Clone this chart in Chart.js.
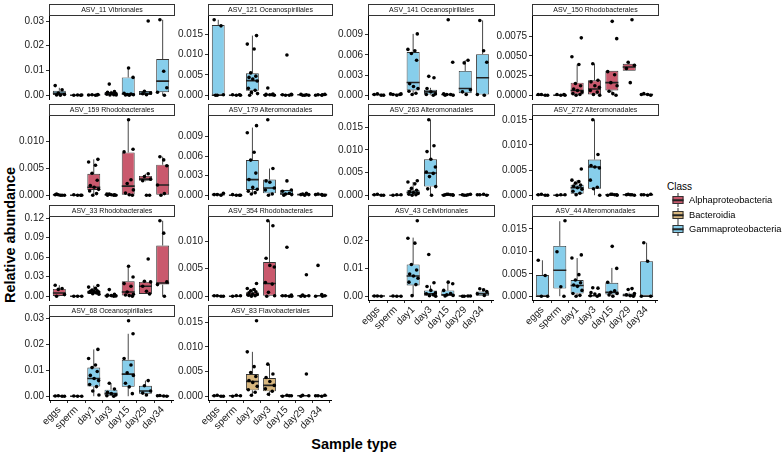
<!DOCTYPE html>
<html>
<head>
<meta charset="utf-8">
<script src="https://cdn.jsdelivr.net/npm/chart.js@4.4.0/dist/chart.umd.min.js"></script>
<style>
  body { margin: 0; background: #fff; font-family: "Liberation Sans", Arial, sans-serif; -webkit-font-smoothing: antialiased; }
  #wrap { position: relative; width: 784px; height: 453px; overflow: hidden; }
  #wrap canvas { position: absolute; }
  .strip { position: absolute; box-sizing: border-box; height: 12px; border: 1px solid #333; background: #fff;
           font-size: 7px; line-height: 10px; text-align: center; color: #111; z-index: 2; white-space: nowrap;
           will-change: transform; }
  .ytitle { position: absolute; left: 10px; top: 235px; transform: translate(-50%, -50%) rotate(-90deg);
            font-weight: bold; font-size: 14.5px; white-space: nowrap; color: #000; }
  .xtitle { position: absolute; left: 354px; top: 444px; transform: translate(-50%, -50%);
            font-weight: bold; font-size: 14.5px; white-space: nowrap; color: #000; }
  .legtitle { position: absolute; left: 667px; top: 181px; font-size: 10px; color: #000; }
  .legitem { position: absolute; left: 689px; font-size: 9.3px; color: #000; transform: translateY(-50%); white-space: nowrap; }
  .keyline { position: absolute; width: 1px; height: 14px; background: #333; transform: translate(-50%, -50%); }
  .keybox { position: absolute; width: 11px; height: 8px; box-sizing: border-box; border: 1px solid #333; transform: translate(-50%, -50%); }
  .keymed { position: absolute; width: 11px; height: 1.5px; background: #222; transform: translate(-50%, -50%); }
</style>
</head>
<body>
<div id="wrap">
  <div class="ytitle">Relative abundance</div>
  <div class="xtitle">Sample type</div>
  <div class="legtitle">Class</div>
</div>
<script>
const CATEGORIES = ["eggs", "sperm", "day1", "day3", "day15", "day29", "day34"];
const CLASSES = ["Alphaproteobacteria", "Bacteroidia", "Gammaproteobacteria"];

const PANEL_TITLES = [
    "ASV_11 Vibrionales", "ASV_121 Oceanospirillales", "ASV_141 Oceanospirillales", "ASV_150 Rhodobacterales",
    "ASV_159 Rhodobacterales", "ASV_179 Alteromonadales", "ASV_263 Alteromonadales", "ASV_272 Alteromonadales",
    "ASV_33 Rhodobacterales", "ASV_354 Rhodobacterales", "ASV_43 Cellvibrionales", "ASV_44 Alteromonadales",
    "ASV_68 Oceanospirillales", "ASV_83 Flavobacteriales"
];
// index into CLASSES
const PANEL_CLASS = [2, 2, 2, 0, 0, 2, 2, 2, 0, 0, 2, 2, 2, 1];

const Y_TICKS = [
    [0, 0.01, 0.02, 0.03], [0, 0.005, 0.01, 0.015], [0, 0.003, 0.006, 0.009], [0, 0.0025, 0.005, 0.0075],
    [0, 0.005, 0.01], [0, 0.003, 0.006, 0.009], [0, 0.005, 0.01, 0.015], [0, 0.005, 0.01, 0.015],
    [0, 0.03, 0.06, 0.09, 0.12], [0, 0.005, 0.01], [0, 0.01, 0.02], [0, 0.005, 0.01, 0.015],
    [0, 0.01, 0.02, 0.03], [0, 0.005, 0.01, 0.015]
];

// box statistics, one row per panel, one value per sample type
const WHISKER_LOW = [
    [0, 0, 0, 0, 0, 0, 0], [0, 0, 0.0001, 0, 0, 0, 0], [0, 0, 0, 0, 0, 0, 0], [0, 0, 0, 0, 0.0002, 0.0031, 0],
    [0, 0, 0, 0, 0, 0.0026, 0], [0, 0, 0.0002, 0, 0, 0, 0], [0, 0, 0, 0, 0, 0, 0], [0, 0, 0, 0, 0, 0, 0],
    [0, 0, 0.0026, 0, 0, 0.0036, 0], [0, 0, 0, 0, 0, 0, 0], [0, 0, 0.0002, 0, 0, 0, 0.0002], [0, 0, 0, 0, 0, 0, 0],
    [0, 0, 0, 0, 0, 0, 0], [0, 0, 0, 0, 0, 0, 0]
];
const BOX_Q1 = [
    [0.0001, 0, 0, 0.0001, 0.0003, 0.0001, 0.0012], [0, 0, 0.0011, 0, 0, 0, 0], [0, 0, 0.0007, 0.0001, 0, 0.0003, 0.0001], [0, 0, 0.0001, 0.0001, 0.0006, 0.0031, 0],
    [0, 0, 0.001, 0, 0.0001, 0.0027, 0], [0, 0, 0.0008, 0.0003, 0.0001, 0, 0], [0, 0, 0.0001, 0.0019, 0, 0, 0], [0, 0, 0.0003, 0.0013, 0, 0, 0],
    [0.0005, 0, 0.0035, 0, 0.001, 0.0036, 0.0179], [0, 0, 0, 0.0001, 0, 0, 0], [0, 0, 0.0039, 0.0002, 0.0002, 0, 0.0002], [0, 0.0017, 0.0006, 0, 0.0004, 0, 0],
    [0, 0, 0.0037, 0, 0.0036, 0.001, 0], [0, 0, 0.0012, 0.001, 0, 0, 0]
];
const BOX_MEDIAN = [
    [0.0008, 0, 0.0001, 0.0005, 0.0005, 0.0008, 0.0057], [0, 0, 0.0036, 0.0001, 0.0001, 0.0001, 0.0001], [0.0001, 0.0001, 0.0019, 0.0005, 0.0001, 0.001, 0.0026], [0, 0, 0.0006, 0.0008, 0.0016, 0.0036, 0.0001],
    [0.0001, 0, 0.0015, 0.0001, 0.0017, 0.003, 0.0019], [0.0001, 0, 0.0024, 0.0011, 0.0002, 0.0001, 0.0001], [0.0001, 0, 0.0006, 0.0049, 0.0001, 0.0001, 0.0001], [0.0001, 0, 0.0015, 0.0056, 0.0001, 0.0001, 0.0001],
    [0.005, 0, 0.0066, 0.0008, 0.0066, 0.0153, 0.0204], [0.0001, 0, 0.0003, 0.0023, 0.0001, 0.0001, 0.0001], [0.0001, 0, 0.0073, 0.0009, 0.0005, 0.0001, 0.0009], [0, 0.0058, 0.0024, 0.0001, 0.0009, 0.0002, 0],
    [0.0001, 0, 0.0068, 0.001, 0.0085, 0.002, 0.0001], [0.0001, 0.0001, 0.003, 0.0022, 0.0001, 0.0001, 0.0001]
];
const BOX_Q3 = [
    [0.0018, 0.0001, 0.0002, 0.0013, 0.0072, 0.0017, 0.0146], [0.0173, 0.0001, 0.0054, 0.0002, 0.0002, 0.0001, 0.0002], [0.0001, 0.0002, 0.0064, 0.0008, 0.0002, 0.0036, 0.0061], [0.0001, 0.0001, 0.0016, 0.0019, 0.0031, 0.004, 0.0001],
    [0.0001, 0.0001, 0.004, 0.0001, 0.008, 0.0036, 0.0057], [0.0001, 0.0001, 0.0054, 0.0024, 0.0008, 0.0002, 0.0001], [0.0001, 0.0001, 0.0011, 0.0079, 0.0001, 0.0001, 0.0001], [0.0001, 0.0001, 0.0021, 0.0071, 0.0001, 0.0001, 0.0001],
    [0.0112, 0, 0.0087, 0.0026, 0.023, 0.022, 0.078], [0.0001, 0.0001, 0.0007, 0.0062, 0.0001, 0.0001, 0.0002], [0.0001, 0.0001, 0.0115, 0.0021, 0.0021, 0.0001, 0.0017], [0.0047, 0.0112, 0.0036, 0.0003, 0.003, 0.0006, 0.0078],
    [0.0001, 0.0001, 0.011, 0.0025, 0.014, 0.004, 0.0002], [0.0001, 0.0001, 0.0045, 0.0037, 0.0001, 0.0002, 0.0001]
];
const WHISKER_HIGH = [
    [0.003, 0.0001, 0.0003, 0.0018, 0.011, 0.0017, 0.0305], [0.0186, 0.0001, 0.0147, 0.0003, 0.0002, 0.0002, 0.0002], [0.0002, 0.0002, 0.0091, 0.0011, 0.0002, 0.0052, 0.0111], [0.0001, 0.0001, 0.0039, 0.004, 0.0031, 0.0042, 0.0002],
    [0.0002, 0.0001, 0.0067, 0.0002, 0.0141, 0.004, 0.0072], [0.0003, 0.0001, 0.0104, 0.0041, 0.0008, 0.0003, 0.0002], [0.0002, 0.0001, 0.0029, 0.0166, 0.0002, 0.0002, 0.0002], [0.0002, 0.0001, 0.003, 0.015, 0.0002, 0.0002, 0.0002],
    [0.0169, 0, 0.0164, 0.0035, 0.046, 0.023, 0.116], [0.0001, 0.0001, 0.0014, 0.0137, 0.0002, 0.0002, 0.0003], [0.0001, 0.0001, 0.0212, 0.0039, 0.0051, 0.0002, 0.0027], [0.008, 0.0167, 0.0085, 0.0005, 0.0063, 0.0008, 0.0119],
    [0.0002, 0.0001, 0.018, 0.005, 0.024, 0.006, 0.0003], [0.0002, 0.0002, 0.009, 0.0065, 0.0002, 0.0003, 0.0002]
];

// individual samples per panel and sample type
const POINTS = [
    [[0.0039, 0.0022, 0.0009, 0.0003, 0.0001, 0], [0.0001, 0, 0.0001, 0], [0.0003, 0.0001, 0, 0.0002, 0.0001],
     [0.0045, 0.0015, 0.0012, 0.0009, 0.0006, 0.0004, 0.0002, 0.0001, 0.0001], [0.011, 0.0072, 0.0008, 0.0005, 0.0003, 0.0002, 0.0001, 0],
     [0.03, 0.0016, 0.0009, 0.0006, 0.0002], [0.0305, 0.0097, 0.003, 0.0012, 0]],
    [[0.0186, 0.0171, 0, 0.0001, 0], [0, 0.0001, 0, 0.0001],
     [0.0147, 0.0126, 0.0114, 0.0055, 0.0047, 0.0044, 0.004, 0.0035, 0.0017, 0.0012, 0.0007, 0.0004, 0],
     [0.0018, 0.0003, 0.0002, 0.0001, 0, 0, 0.0001], [0.0099, 0.0002, 0.0001, 0, 0, 0.0001], [0.0001, 0, 0, 0.0002, 0], [0.0001, 0, 0.0002, 0, 0.0001]],
    [[0.0001, 0, 0.0002, 0], [0.0002, 0.0001, 0, 0.0001, 0.0002],
     [0.0091, 0.0068, 0.0066, 0.0062, 0.0052, 0.0017, 0.0013, 0.001, 0.0006, 0.0003, 0.0001],
     [0.0028, 0.0026, 0.001, 0.0005, 0.0002, 0.0001, 0], [0.0112, 0.0049, 0.0002, 0.0001, 0.0001, 0, 0],
     [0.0052, 0.0048, 0.0008, 0.0005, 0.0001], [0.0111, 0.0066, 0.0049, 0.0001, 0]],
    [[0.0001, 0, 0.0001, 0], [0, 0.0001, 0, 0.0001],
     [0.0073, 0.0049, 0.0039, 0.0015, 0.0012, 0.0008, 0.0006, 0.0004, 0.0002, 0.0001, 0],
     [0.004, 0.0019, 0.0017, 0.0012, 0.001, 0.0006, 0.0004, 0.0001, 0], [0.0094, 0.0072, 0.003, 0.0026, 0.0016, 0.0012, 0.0005, 0.0002, 0],
     [0.0096, 0.0042, 0.0038, 0.0034, 0.0016], [0.0002, 0.0001, 0, 0.0001]],
    [[0.0001, 0, 0.0001, 0, 0.0002, 0], [0, 0.0001, 0, 0],
     [0.0067, 0.0062, 0.0056, 0.0041, 0.0028, 0.0018, 0.0015, 0.0011, 0.0008, 0.0003, 0],
     [0.0002, 0.0001, 0, 0.0001, 0, 0.0002, 0], [0.0141, 0.0086, 0.0081, 0.0029, 0.0022, 0.001, 0.0004, 0.0001, 0],
     [0.004, 0.0035, 0.003, 0.0027, 0, 0], [0.0072, 0.0066, 0.0055, 0.0019, 0.0003, 0]],
    [[0.0001, 0, 0.0001, 0.0003], [0, 0.0001, 0, 0],
     [0.0107, 0.0096, 0.0066, 0.0054, 0.0034, 0.0024, 0.0012, 0.0009, 0.0006, 0.0004, 0.0002],
     [0.0116, 0.0041, 0.0022, 0.002, 0.0011, 0.0008, 0.0002, 0], [0.0022, 0.0008, 0.0006, 0.0003, 0.0002, 0.0001, 0],
     [0.0003, 0.0002, 0.0001, 0.0001, 0], [0.0002, 0.0001, 0, 0.0001, 0]],
    [[0.0001, 0, 0.0002, 0], [0.0001, 0, 0.0001],
     [0.0032, 0.0029, 0.0025, 0.0015, 0.0011, 0.0008, 0.0006, 0.0004, 0.0002, 0.0001, 0],
     [0.0166, 0.0109, 0.0096, 0.0079, 0.0062, 0.0051, 0.0048, 0.0041, 0.0019, 0.0014, 0],
     [0.0002, 0.0001, 0, 0.0001, 0.0002, 0, 0.0001], [0.0001, 0, 0.0002, 0.0001, 0], [0.0001, 0.0002, 0, 0.0001]],
    [[0.0001, 0, 0.0002, 0], [0.0001, 0, 0.0001],
     [0.0052, 0.003, 0.0027, 0.0024, 0.002, 0.0018, 0.0015, 0.0012, 0.0008, 0.0004, 0.0001],
     [0.015, 0.0081, 0.0059, 0.0056, 0.0054, 0.003, 0.0016, 0.0013, 0],
     [0.0002, 0.0001, 0, 0.0001, 0.0002, 0], [0.0001, 0.0002, 0, 0.0001, 0.0001], [0.0001, 0, 0.0002, 0.0001]],
    [[0.0169, 0.0118, 0.0105, 0.0025, 0], [0, 0, 0],
     [0.0164, 0.014, 0.012, 0.0095, 0.0085, 0.0075, 0.007, 0.0066, 0.006, 0.005, 0.004, 0.003],
     [0.0102, 0.003, 0.002, 0.001, 0.0005, 0.0002, 0], [0.046, 0.0296, 0.0194, 0.0153, 0.0066, 0.003, 0.002, 0.001, 0],
     [0.0572, 0.023, 0.022, 0.0153, 0.0077, 0.0036], [0.116, 0.097, 0.022, 0.0179, 0]],
    [[0.0001, 0, 0.0001, 0], [0.0001, 0, 0.0001],
     [0.0023, 0.0014, 0.0012, 0.001, 0.0008, 0.0006, 0.0004, 0.0003, 0.0002, 0.0001, 0],
     [0.0137, 0.0128, 0.0069, 0.0056, 0.0053, 0.0025, 0.0022, 0.0007, 0.0001, 0],
     [0.0089, 0.0002, 0.0001, 0, 0.0001, 0], [0.0039, 0.0002, 0.0001, 0, 0], [0.0056, 0.0003, 0.0001, 0, 0]],
    [[0.0001, 0, 0.0001], [0, 0.0001, 0],
     [0.0273, 0.021, 0.0192, 0.0115, 0.0095, 0.008, 0.0073, 0.0065, 0.0051, 0.0042, 0.0002],
     [0.0151, 0.0049, 0.0035, 0.0021, 0.0012, 0.0009, 0.0005, 0.0002, 0],
     [0.0051, 0.0045, 0.0021, 0.001, 0.0005, 0.0003, 0.0001], [0.0001, 0, 0.0001, 0], [0.0027, 0.0023, 0.0017, 0.0009, 0.0003]],
    [[0.008, 0.0046, 0, 0], [0.0168, 0.0099, 0.0021, 0],
     [0.0092, 0.0085, 0.0048, 0.0036, 0.003, 0.0025, 0.0022, 0.0013, 0.0006, 0.0002, 0],
     [0.0019, 0.0018, 0.0008, 0.0005, 0.0003, 0.0001, 0], [0.0111, 0.0062, 0.0031, 0.0012, 0.0009, 0.0006, 0.0003, 0],
     [0.0017, 0.0015, 0.0006, 0.0003, 0.0001, 0], [0.0119, 0.0078, 0, 0]],
    [[0.0001, 0, 0.0002, 0], [0, 0.0001, 0],
     [0.018, 0.0145, 0.012, 0.011, 0.0095, 0.008, 0.0068, 0.006, 0.0045, 0.0037, 0.002, 0.0005],
     [0.005, 0.0028, 0.0015, 0.001, 0.0005, 0.0002, 0], [0.029, 0.024, 0.0145, 0.012, 0.009, 0.008, 0.005, 0.0036, 0.001],
     [0.006, 0.004, 0.002, 0.0012, 0.0005], [0.0003, 0.0001, 0, 0.0002]],
    [[0.0001, 0, 0.0002, 0], [0.0001, 0, 0.0002],
     [0.0153, 0.009, 0.006, 0.0048, 0.004, 0.0032, 0.0028, 0.002, 0.0013, 0.0008, 0.0002],
     [0.0065, 0.0045, 0.0038, 0.003, 0.0022, 0.0015, 0.001, 0.0004],
     [0.0002, 0.0001, 0, 0.0001], [0.0045, 0.0002, 0.0001, 0], [0.0001, 0, 0.0002, 0.0001]]
];

// layout (pixels) and styling
const COLS = [[49, 175], [208, 333], [368, 495], [532, 659]];
const ROWS = [[16, 99], [116, 199], [217, 300], [317, 400]];
const CLASS_COLORS = ["#C9596D", "#D8B77F", "#87CEEB"];
const JITTER = [-0.24, 0.16, -0.06, 0.3, -0.16, 0.06, 0.24, -0.3, 0.1, -0.1, 0.2, -0.2, 0.02, 0.28];
const AX_W = 40, PAD = 6, X_H = 44, STRIP_H = 12;

Chart.defaults.font.family = "'Liberation Sans', Arial, sans-serif";

const wrap = document.getElementById("wrap");

function decimalsOf(ticks) {
    return Math.max(...ticks.map(t => (t.toString().split(".")[1] || "").length));
}

function buildPanel(p) {
    const row = Math.floor(p / 4), col = p % 4;
    const [L, R] = COLS[col];
    const [T, B] = ROWS[row];
    const bottom = (col < 2 && row === 3) || (col >= 2 && row === 2);

    const strip = document.createElement("div");
    strip.className = "strip";
    strip.style.left = L + "px";
    strip.style.top = (T - STRIP_H) + "px";
    strip.style.width = (R - L) + "px";
    strip.textContent = PANEL_TITLES[p];
    wrap.appendChild(strip);

    const canvas = document.createElement("canvas");
    const w = R - L + AX_W + 2;
    const h = B - T + PAD + (bottom ? X_H : PAD);
    canvas.width = w;
    canvas.height = h;
    canvas.style.left = (L - AX_W) + "px";
    canvas.style.top = (T - PAD) + "px";
    canvas.style.width = w + "px";
    canvas.style.height = h + "px";
    wrap.appendChild(canvas);

    const pts = [];
    POINTS[p].forEach((grp, g) => {
        grp.forEach((v, k) => pts.push({ x: g + JITTER[(k + g * 3) % JITTER.length], y: v }));
    });

    const whiskers = [];
    const medians = [];
    CATEGORIES.forEach((c, g) => {
        whiskers.push({ x: g, y: WHISKER_LOW[p][g] }, { x: g, y: BOX_Q1[p][g] }, { x: g, y: null });
        whiskers.push({ x: g, y: BOX_Q3[p][g] }, { x: g, y: WHISKER_HIGH[p][g] }, { x: g, y: null });
        medians.push({ x: g - 0.375, y: BOX_MEDIAN[p][g] }, { x: g + 0.375, y: BOX_MEDIAN[p][g] }, { x: g + 0.375, y: null });
    });

    let maxVal = 0;
    POINTS[p].forEach(grp => grp.forEach(v => { if (v > maxVal) maxVal = v; }));
    WHISKER_HIGH[p].forEach(v => { if (v > maxVal) maxVal = v; });

    const dec = decimalsOf(Y_TICKS[p]);
    const color = CLASS_COLORS[PANEL_CLASS[p]];

    new Chart(canvas, {
        type: "bar",
        data: {
            datasets: [
                {
                    type: "scatter",
                    data: pts,
                    pointRadius: 1.8,
                    pointBackgroundColor: "#000",
                    pointBorderWidth: 0,
                    order: 0
                },
                {
                    type: "line",
                    data: medians,
                    borderColor: "#222",
                    borderWidth: 1.6,
                    pointRadius: 0,
                    spanGaps: false,
                    order: 1
                },
                {
                    type: "bar",
                    data: CATEGORIES.map((c, g) => ({ x: g, y: [BOX_Q1[p][g], BOX_Q3[p][g]] })),
                    backgroundColor: color,
                    borderColor: "#333",
                    borderWidth: 0.9,
                    borderSkipped: false,
                    barPercentage: 0.75,
                    categoryPercentage: 1,
                    order: 2
                },
                {
                    type: "line",
                    data: whiskers,
                    borderColor: "#333",
                    borderWidth: 0.9,
                    pointRadius: 0,
                    spanGaps: false,
                    order: 3
                }
            ]
        },
        options: {
            responsive: false,
            animation: false,
            events: [],
            layout: { padding: { top: PAD, bottom: bottom ? 0 : PAD, left: 0, right: 2 } },
            plugins: { legend: { display: false }, tooltip: { enabled: false } },
            scales: {
                x: {
                    type: "linear",
                    min: -0.6,
                    max: 6.6,
                    offset: false,
                    display: bottom,
                    grid: { drawOnChartArea: false, drawTicks: true, tickLength: 3, color: "#333" },
                    border: { display: true, color: "#000", width: 1 },
                    ticks: {
                        autoSkip: false,
                        maxRotation: 45,
                        minRotation: 45,
                        padding: 1,
                        color: "#1a1a1a",
                        font: { size: 10 },
                        callback: v => CATEGORIES[v] ?? ""
                    },
                    afterBuildTicks: s => { s.ticks = CATEGORIES.map((c, i) => ({ value: i })); },
                    afterFit: s => {
                        s.height = bottom ? X_H : 0;
                        s.paddingLeft = 0;
                        s.paddingRight = 0;
                    }
                },
                y: {
                    type: "linear",
                    min: -0.05 * maxVal,
                    max: 1.05 * maxVal,
                    grid: { drawOnChartArea: false, drawTicks: true, tickLength: 3, color: "#333" },
                    border: { display: true, color: "#000", width: 1 },
                    ticks: {
                        padding: 2,
                        color: "#1a1a1a",
                        font: { size: 10 },
                        callback: v => Number(v).toFixed(dec)
                    },
                    afterBuildTicks: s => { s.ticks = Y_TICKS[p].map(v => ({ value: v })); },
                    afterFit: s => { s.width = AX_W; s.paddingTop = 0; s.paddingBottom = 0; }
                }
            }
        }
    });
}

function buildLegend() {
    const centersY = [200, 215, 229];
    CLASSES.forEach((name, i) => {
        const cy = centersY[i];
        const line = document.createElement("div");
        line.className = "keyline";
        line.style.left = "678px";
        line.style.top = cy + "px";
        wrap.appendChild(line);
        const box = document.createElement("div");
        box.className = "keybox";
        box.style.left = "678px";
        box.style.top = cy + "px";
        box.style.background = CLASS_COLORS[i];
        wrap.appendChild(box);
        const med = document.createElement("div");
        med.className = "keymed";
        med.style.left = "678px";
        med.style.top = cy + "px";
        wrap.appendChild(med);
        const label = document.createElement("div");
        label.className = "legitem";
        label.style.top = cy + "px";
        label.textContent = name;
        wrap.appendChild(label);
    });
}

PANEL_TITLES.forEach((t, p) => buildPanel(p));
buildLegend();
</script>
</body>
</html>
